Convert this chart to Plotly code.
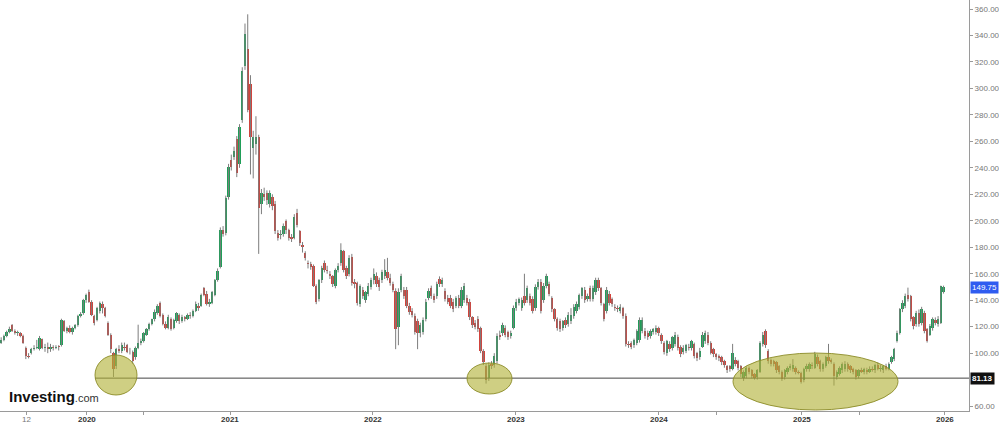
import plotly.graph_objects as go
import pandas as pd

# ---- weekly OHLC data ----
opens = [
    108,110,113,116,121,117,115,115,113,104, 98,100,103,104,103,110.5,104,105,103,105,
    104,105,106,124,117,119,116,119,121,128, 130,140,146.5,139,128,125,132,137,134,123,
    114,100,90,103,102,105,106,101,100.5,97, 104,107.5,109,114,118,122,125.5,130,138,129,
    122,119,126,119,124,129,124,127,126,129, 128,132,136,136,149,145,137,138,144,155,
    165,193,191,218,246,248,262,243,276,317, 330,303,255,258,263,213,220,221,213,218,
    213,191,189,190,200,193,188,187,206,192, 182,176,168,167,166,151,141,
    155,168,163,160,158,151,163,168,177,164, 160,173,154,153,137,148,140,145,150,155,
    158,155,155,158,161,157,152,147,120,148, 148,148,136,132,128,124,115,116,126,142,
    149,143,143,156,152,147,142,142,139,136, 142,136,140,142,139,127,123,126,119,102,
    90,81,92,91,94,114,115,119,116,113, 119,134,138,134,143,140,143,141,134,150,
    154,140,151,152,142,133,126,124,119,125, 122,124,128,132,135,143,148,141,149,141,
    146,155,149,137,132,145,141,135,134,132, 134,128,107,108,106,108,110,
    117,117,115,113,116,116,119,114,108,100, 107,104,107,112,105,101,102,105,104,107,
    100,97,105,109,114,108,103,99,98,97, 94,90,90,88,95,94,90,81,83,89,
    87,84,82,86,107,117,102,95,94,93, 90,86,82,86,89,88,89,86,85,
    80,88,88,91,89,97,94,88,90.5,97, 95,92,82,84,87,88,92,90,88,87,
    83,87,86,87,86,88,87,91,88,87, 90.5,88,93,95.5,109,115.5,133,135.5,144,143,
    127,122,130.5,123,130.5,118,114,119,125,122, 123,146,
]
closes = [
    110,113,116,118,117,115,116,113,108,98, 97,103,104,104.5,111.5,104,105,103.5,105,104,
    105,104.5,125,117,119,116,119,121,128,129.5, 140,144,139,129,123,134,138,134,128,114,
    103,88,103,102,106,104,101,100.5,94,104, 107.5,109,115.5,118,121.75,125.5,131,136,128,122,
    119,127,118,125,130,124,127,126,129,128, 132,137,134,144,144,137,139,146,155,162,
    193,190,217,241,241,253,236,271,313,341, 284,263,263,263,210,221,218,216,221,211,
    192,187,190,196,193,187,186,203,197,183, 180,172,167,165,151,139,155,
    164,163,162,158,152,163,166,178,163,158, 172,153,152,138,151,143,146,151,155,160,
    152,150,161,163,157,153,148,118,146,158, 143,136,131,129,116,115,121,125,139,147,
    143,140,152,152,155,141,139,136,133,142, 136,148,151,138,127,121,120,118,102,93,
    80,91,90,98,113,112,121,114,112,115, 134,139,141,140,138,149,138,132,150,154,
    132,151,158,145,133,126,119,118,124,121, 129,129,135,137,144,149,140,143,141,149,
    155,149,138,126,148,138,137,134,133,135, 128,107,106,105,110,117,125,
    125,113,112,117,118,119,115,109,101,109, 103,112,114,104,99,104,106,104,109,98,
    96,102,114,115,108,100,99,97,96,93, 91,87,88,100,92,89,84,86,89,85.5,
    83,81.5,87,108,114,106,94,92,92,87, 86,80.5,87,89,90,91,86,85,78,
    88,90.5,92,90,99,92,88,92,97,94, 93.5,83,85.5,89,92,92,88,87,86,82,
    87,86,88,86,88,87,91,88,89,90.5, 88,92,97,103,115.5,133,138,143,141,126,
    120.5,130.5,122,133,117,109.5,120.5,125.5,123,125.5, 150.5,149.75,
]
highs = [
    112,114,117,120,122,118,117,116,114,105, 100,104,106,110,113,111,107,108,107,106,
    106,106,126,125,120,121,120,122,129,131, 141,145,148,140,129,135,139,139,135,124,
    115,101,104,106,108,108,107,104,102,105, 121.5,111,116,119,123,126,133,137,139,130,
    124,129,127,126,131,130,129,128,130,131, 133,139,138,145,150,147,141,147,156,164,
    195,196,219,243,250,256,264,273,316,349, 356,310,268,279,265,224,225,223,223,220,
    215,193,193,198,201,194,190,205,209,193, 184,177,170,169,167,152,156,
    166,170,166,162,159,164,168,183,178,166, 174,175,156,154,152,150,147,153,157,164,
    161,157,163,171,172,160,154,149,149,160, 150,150,138,134,130,126,123,127,141,149,
    151,145,154,158,157,149,144,144,141,143, 144,150,153,144,141,128,125,128,120,103,
    92,93,94,100,115,117,123,121,117,117, 136,141,142,142,160,151,145,143,152,156,
    156,153,160,154,143,134,127,126,125,127, 131,134,137,139,145,150,150,145,151,151,
    157,157,150,138,150,147,142,137,136,137, 135,130,109,109,111,118,127,
    127,119,117,118,119,121,120,115,109,110, 109,113,116,114,106,106,107,107,110,108,
    101,104,116,117,116,109,104,100,99,98, 95,91,91,107,97,95,91,87,90,90,
    88,85,88,109,116,118,103,96,95,94, 91,87,88,90,92,95.5,90,87,86,
    89,92,93,93,101,99,95,93,98,107, 96,93,87,90,93,94,93,91,89,88,
    88,89,89,89,90,90,92,93,91,91, 92,93,98,104,117,134,140,145,149.5,144,
    128,132,133,135,132,119,122,127,127,128, 151,151,
]
lows = [
    107,109,112,115,116,114,113,112,107,95.5, 96,99,102,103,102,103,101,100,101,102,
    103,102,105,116,115,115,114,118,120,127, 129,138,138,128,121,124,130,130,127,113,
    100,82,88,100,100,102,100,99,92,95, 103,106,108,113,117,121,124,129,127,121,
    118,118,117,118,123,122,123,124,125,126, 127,131,132,135,143,136,135,137,143,154,
    164,188,189,216,238,246,233,240,274,314, 282,235,232,250,175,205,215,212,210,208,
    190,185,186,188,190,185,184,186,195,181, 176,170,164,163,150,137,139,
    153,161,160,156,150,149,161,166,161,156, 158,151,149,136,135,141,138,143,148,152,
    150,147,153,156,155,151,146,103,106,146, 141,134,129,127,114,103,112,114,124,140,
    141,138,141,150,150,139,137,134,131,134, 134,134,138,136,125,119,118,116,100,91,
    77,79,88,89,92,110,113,112,110,111, 118,132,136,132,136,138,136,130,132,148,
    130,138,149,143,131,124,117,116,117,119, 120,122,126,130,133,141,138,139,139,139,
    144,147,136,124,130,136,135,132,131,130, 126,105,104,103,104,106,108,
    115,111,110,111,114,114,113,107,99,98, 101,102,105,102,97,99,100,102,102,96,
    94,95,104,107,106,99,97,95,94,91, 89,85,86,87,90,87,82,79,81,84,
    81,80,80,85,105,104,92,90,90,85, 84,79,80,84,87,86,84,84,77,
    78,86,86,88,88,90,86,86,89,92, 92,75.5,80,83,85,86,86,85,84,80,
    81,85,84,84,85,86,85,87,86,85, 87,87,92,94,108,114,131,134,139,124,
    118,120,120,121,115,108,113,117,121,120, 122,145,
]
first_week = "2019-05-27"
support_level = 81.13
last_price = 149.75
y_ticks = [60] + list(range(100, 361, 20))   # 80.00 is hidden behind the 81.13 tag
y_tick_labels = [f"{v:.2f}" for v in y_ticks]
x_tick_dates = ["2019-07-31", "2020-01-01", "2020-05-25", "2021-01-01", "2022-01-01",
                "2023-01-01", "2024-01-01", "2024-05-28", "2025-01-01", "2025-05-28", "2026-01-01"]
x_tick_labels = ["12", "2020", "", "2021", "2022", "2023", "2024", "", "2025", "", "2026"]

UP = "#1f9e58"
DOWN = "#d2433c"

dates = pd.date_range(first_week, periods=len(closes), freq="7D")

# wicks
wx, wy = [], []
for d, o, h, l, c in zip(dates, opens, highs, lows, closes):
    wx += [d, d, None]
    wy += [min(l, o, c), max(h, o, c), None]

bases = [min(o, c) for o, c in zip(opens, closes)]
heights = [max(abs(c - o), 0.7) for o, c in zip(opens, closes)]
colors = [UP if c >= o else DOWN for o, c in zip(opens, closes)]

fig = go.Figure()
fig.add_trace(go.Scatter(x=wx, y=wy, mode="lines",
                         line=dict(color="#7d7d7d", width=1), hoverinfo="skip", showlegend=False))
fig.add_trace(go.Bar(x=dates, y=heights, base=bases, marker=dict(color=colors, line=dict(width=0)),
                     width=6 * 24 * 3600 * 1000, showlegend=False))

W, H = 969, 411  # plot area in px


def px(x):
    return x / W


def py(y):
    return 1 - y / H


shapes = []
# support line
shapes.append(dict(type="line", xref="paper", yref="y", x0=px(95), x1=1,
                   y0=support_level, y1=support_level, line=dict(color="#444", width=1)))
# highlight ellipses
for (x0, x1, y0, y1) in [(95, 137, 355, 395), (467, 512, 363, 394), (733, 898, 353, 410)]:
    shapes.append(dict(type="circle", xref="paper", yref="paper", layer="above",
                       x0=px(x0), x1=px(x1), y0=py(y1), y1=py(y0),
                       fillcolor="rgba(178,178,55,0.62)",
                       line=dict(color="rgba(140,140,40,0.9)", width=1)))

annotations = [
    dict(xref="paper", yref="y", x=1, y=last_price, xanchor="left", yanchor="middle",
         text="149.75", showarrow=False, bgcolor="#2f5cf0", borderpad=1, xshift=1,
         font=dict(color="white", size=8, family="Liberation Sans, Arial")),
    dict(xref="paper", yref="y", x=1, y=support_level, xanchor="left", yanchor="middle",
         text="<b>81.13</b>", showarrow=False, bgcolor="#111", borderpad=1, xshift=1,
         font=dict(color="white", size=8, family="Liberation Sans, Arial")),
    dict(xref="paper", yref="paper", x=px(7), y=py(396), xanchor="left", yanchor="middle",
         text="<b>Investing</b><span style='font-size:11px;color:#333'>.com</span>",
         showarrow=False, font=dict(color="#111", size=15, family="Liberation Sans, Arial")),
]
# x-axis labels (drawn as text just under the axis)
for d, t in zip(x_tick_dates, x_tick_labels):
    if not t:
        continue
    is_year = len(t) == 4
    annotations.append(dict(xref="x", yref="paper", x=d, y=py(419), xanchor="center",
                            yanchor="middle", showarrow=False, borderpad=0,
                            text=f"<b>{t}</b>" if is_year else t,
                            font=dict(size=8, color="#333" if is_year else "#777",
                                      family="Liberation Sans, Arial")))

fig.update_layout(
    width=999, height=424,
    margin=dict(l=0, r=999 - W, t=0, b=424 - H, pad=0, autoexpand=False),
    paper_bgcolor="white", plot_bgcolor="white",
    barmode="overlay", bargap=0,
    showlegend=False, hovermode=False,
    shapes=shapes, annotations=annotations,
    font=dict(family="Liberation Sans, Arial", size=8, color="#666"),
    xaxis=dict(type="date", range=["2019-05-24", "2026-03-04"], showgrid=False, zeroline=False,
               showline=True, linecolor="#9a9a9a", ticks="outside", ticklen=3, tickcolor="#9a9a9a",
               tickvals=x_tick_dates, showticklabels=False, automargin=False, fixedrange=True),
    yaxis=dict(side="right", range=[56.3, 366.8], showgrid=False, zeroline=False,
               showline=True, linecolor="#9a9a9a", ticks="outside", ticklen=3, tickcolor="#9a9a9a",
               tickvals=y_ticks, ticktext=y_tick_labels, automargin=False,
               tickfont=dict(size=8, color="#777"), fixedrange=True),
)

fig.write_html("out.html", config={"displayModeBar": False, "staticPlot": True},
               post_script="document.body.style.margin='0';document.body.style.overflow='hidden';")
